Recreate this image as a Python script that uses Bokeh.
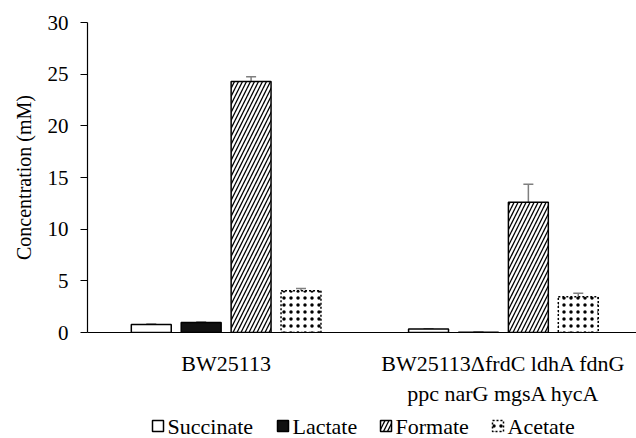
from bokeh.plotting import figure
from bokeh.layouts import column
from bokeh.models import (ColumnDataSource, Range1d, FixedTicker, Whisker, TeeHead)
from bokeh.embed import file_html
from bokeh.resources import INLINE

# ---- data ----
strains = ["BW25113", "BW25113\u0394frdC ldhA fdnG\nppc narG mgsA hycA"]
products = ["Succinate", "Lactate", "Formate", "Acetate"]
values = {
    "Succinate": [0.78, 0.33],
    "Lactate":   [0.97, 0.03],
    "Formate":   [24.3, 12.6],
    "Acetate":   [4.05, 3.45],
}
errors = {
    "Succinate": [0.04, 0.03],
    "Lactate":   [0.05, 0.01],
    "Formate":   [0.45, 1.75],
    "Acetate":   [0.22, 0.35],
}
y_ticks = [0, 5, 10, 15, 20, 25, 30]

FONT = "'Liberation Serif'"
W = 636
MAIN_H = 408
LEG_H = 30
LEFT = 87

p = figure(width=W, height=MAIN_H, output_backend="svg", toolbar_location=None,
           x_range=Range1d(-0.5, 1.48), y_range=Range1d(0, 30),
           min_border_left=LEFT, min_border_right=0, min_border_top=22,
           min_border_bottom=MAIN_H - 333)
p.outline_line_color = None
p.grid.grid_line_color = None
p.background_fill_color = "white"

styles = {
    "Succinate": dict(fill_color="white", line_color="black", line_width=1.5),
    "Lactate":   dict(fill_color="#111111", line_color="black", line_width=1.5),
    "Formate":   dict(fill_color="white", line_color="black", line_width=1.5,
                      hatch_pattern="/", hatch_color="black", hatch_scale=8,
                      hatch_weight=1.3),
    "Acetate":   dict(fill_color="white", line_color="black", line_width=1.5,
                      line_dash="2 2", hatch_pattern=".", hatch_color="black",
                      hatch_scale=7, hatch_weight=0.8),
}

step = 0.18
bar_w = 0.144
for i, prod in enumerate(products):
    off = (i - 1.5) * step
    xs = [g + off for g in range(len(strains))]
    v = values[prod]
    e = errors[prod]
    src = ColumnDataSource(dict(x=xs, top=v,
                                upper=[a + b for a, b in zip(v, e)],
                                lower=[a - b for a, b in zip(v, e)]))
    p.vbar(x="x", top="top", width=bar_w, source=src, **styles[prod])
    w = Whisker(base="x", upper="upper", lower="lower", source=src,
                line_color="#7f7f7f", line_width=1.5,
                upper_head=TeeHead(size=10, line_color="#7f7f7f", line_width=1.5),
                lower_head=TeeHead(size=10, line_color="#7f7f7f", line_width=1.5))
    p.add_layout(w)

# y axis
ya = p.yaxis[0]
ya.ticker = FixedTicker(ticks=y_ticks)
ya.minor_tick_line_color = None
ya.major_tick_in = 0
ya.major_tick_out = 7
ya.major_tick_line_color = "black"
ya.axis_line_color = "black"
ya.axis_line_width = 1.2
ya.major_label_standoff = 12
ya.major_label_text_font = FONT
ya.major_label_text_font_size = "21px"
ya.major_label_text_color = "black"
ya.axis_label = "Concentration (mM)"
ya.axis_label_text_font = FONT
ya.axis_label_text_font_size = "20px"
ya.axis_label_text_font_style = "normal"
ya.axis_label_text_color = "black"
ya.axis_label_standoff = 10

# x axis
xa = p.xaxis[0]
xa.ticker = FixedTicker(ticks=list(range(len(strains))))
xa.major_label_overrides = {i: s for i, s in enumerate(strains)}
xa.major_tick_line_color = None
xa.minor_tick_line_color = None
xa.axis_line_color = "black"
xa.axis_line_width = 1.2
xa.major_label_standoff = 12
xa.major_label_text_font = FONT
xa.major_label_text_font_size = "22px"
xa.major_label_text_color = "black"

# ---- legend strip (separate figure; its frame lines up with the main one) ----
leg = figure(width=W, height=LEG_H, output_backend="svg", toolbar_location=None,
             x_range=Range1d(LEFT, W), y_range=Range1d(0, LEG_H),
             x_axis_type=None, y_axis_type=None,
             min_border_left=LEFT, min_border_right=0, min_border_top=0,
             min_border_bottom=0)
leg.outline_line_color = None
leg.grid.grid_line_color = None

leg_x = [152, 277, 380, 492]   # left edge of each legend key (page pixels)
key = 11
yc = 12.5
for prod, x0 in zip(products, leg_x):
    leg.rect(x=[x0 + key / 2], y=[yc], width=key, height=key, **styles[prod])
    leg.text(x=[x0 + key + 4], y=[yc], text=[prod], text_font=FONT,
             text_font_size="22px", text_color="black",
             text_align="left", text_baseline="middle")

layout = column(p, leg, spacing=0)
open("out.html", "w").write(file_html(layout, INLINE))
